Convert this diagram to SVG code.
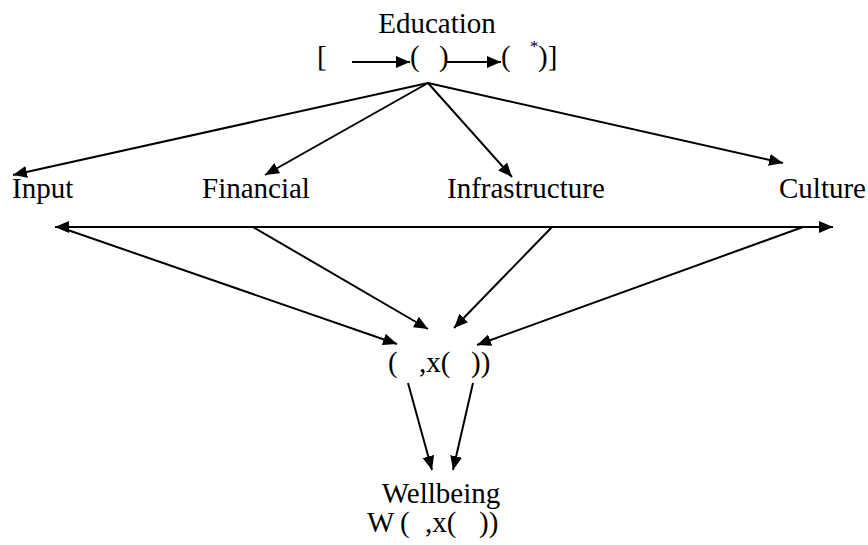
<svg xmlns="http://www.w3.org/2000/svg" width="868" height="545" viewBox="0 0 868 545">
<style>
text{font-family:"Liberation Serif","Times New Roman",serif;font-size:29px;fill:#000}
.c{stroke:#000;stroke-width:2;fill:none}
.a{marker-end:url(#ah)}
.d{marker-start:url(#ah);marker-end:url(#ah)}
.s{font-size:17px}
</style>
<defs>
<marker id="ah" markerUnits="userSpaceOnUse" markerWidth="15" markerHeight="13" refX="14" refY="6" orient="auto-start-reverse">
<path d="M0,0 L14,6 L0,12 z" fill="#000"/>
</marker>
</defs>
<rect width="868" height="545" fill="#fff"/>
<g id="education">
<text x="437" y="33" text-anchor="middle">Education</text>
<text x="317" y="66">[</text>
<text x="410" y="66">(</text>
<text x="439" y="66">)</text>
<text x="501" y="66">(</text>
<text class="s" x="530" y="52">*</text>
<text x="538" y="66">)]</text>
</g>
<g id="input"><text x="12" y="198">Input</text></g>
<g id="financial"><text x="202" y="198">Financial</text></g>
<g id="infrastructure"><text x="447" y="198">Infrastructure</text></g>
<g id="culture"><text x="779" y="198">Culture</text></g>
<g id="middle">
<text x="388" y="372">(</text>
<text x="419" y="372">,x(</text>
<text x="471" y="372">))</text>
</g>
<g id="wellbeing">
<text x="441" y="503" text-anchor="middle">Wellbeing</text>
<text x="367" y="532">W</text>
<text x="400" y="532">(</text>
<text x="425" y="532">,x(</text>
<text x="479" y="532">))</text>
</g>
<g id="connectors">
<line class="c a" x1="352" y1="62" x2="410" y2="62"/>
<line class="c a" x1="447" y1="62" x2="501" y2="62"/>
<line class="c a" x1="428" y1="83" x2="13" y2="175"/>
<line class="c a" x1="428" y1="83" x2="265" y2="175"/>
<line class="c a" x1="428" y1="83" x2="512" y2="177"/>
<line class="c a" x1="428" y1="83" x2="783" y2="163"/>
<line class="c d" x1="55" y1="227" x2="833" y2="227"/>
<line class="c a" x1="62" y1="228" x2="397" y2="344"/>
<line class="c a" x1="253" y1="227" x2="428" y2="329"/>
<line class="c a" x1="552" y1="227" x2="454" y2="328"/>
<line class="c a" x1="803" y1="227" x2="477" y2="345"/>
<line class="c a" x1="408" y1="383" x2="432" y2="470"/>
<line class="c a" x1="473" y1="383" x2="453" y2="470"/>
</g>
</svg>
